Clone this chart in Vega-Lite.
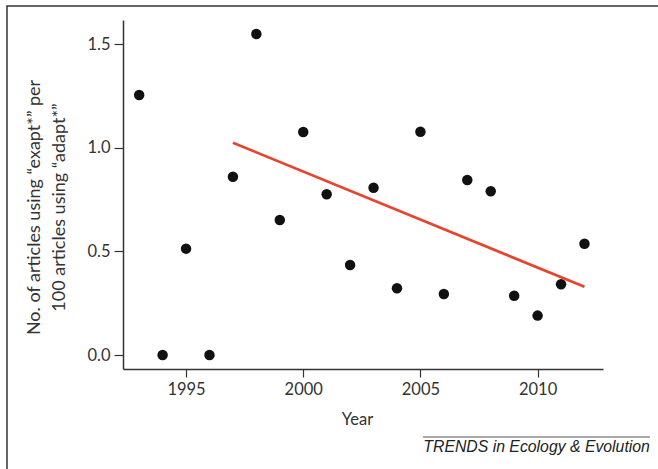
{
  "$schema": "https://vega.github.io/schema/vega-lite/v6.json",
  "autosize": "none",
  "width": 480,
  "height": 349,
  "padding": {"left": 123, "top": 20, "right": 55, "bottom": 100},
  "background": "white",
  "config": {"view": {"stroke": null}, "font": "Lato"},
  "datasets": {
    "points": [
      {"year": 1993, "value": 1.254},
      {"year": 1994, "value": 0.0},
      {"year": 1995, "value": 0.513},
      {"year": 1996, "value": 0.0},
      {"year": 1997, "value": 0.86},
      {"year": 1998, "value": 1.548},
      {"year": 1999, "value": 0.651},
      {"year": 2000, "value": 1.076},
      {"year": 2001, "value": 0.775},
      {"year": 2002, "value": 0.434},
      {"year": 2003, "value": 0.807},
      {"year": 2004, "value": 0.322},
      {"year": 2005, "value": 1.077},
      {"year": 2006, "value": 0.294},
      {"year": 2007, "value": 0.844},
      {"year": 2008, "value": 0.79},
      {"year": 2009, "value": 0.286},
      {"year": 2010, "value": 0.19},
      {"year": 2011, "value": 0.341},
      {"year": 2012, "value": 0.537}
    ],
    "fit": [
      {"year": 1997, "value": 1.024},
      {"year": 2012, "value": 0.329}
    ],
    "frame": [
      {"x1": 1987.36, "x2": 2030, "y1": 1.6833, "y2": -2}
    ],
    "credit": [
      {"x1": 2005.11, "x2": 2014.79, "y": -0.3955, "ty": -0.468, "label": "TRENDS in Ecology & Evolution"}
    ]
  },
  "layer": [
    {
      "data": {"name": "points"},
      "mark": {"type": "circle", "size": 110, "color": "#111111", "opacity": 1},
      "encoding": {
        "x": {
          "field": "year", "type": "quantitative",
          "scale": {"domain": [1992.31, 2012.79], "nice": false, "zero": false},
          "axis": {
            "title": "Year", "values": [1995, 2000, 2005, 2010], "format": "d", "zindex": 1,
            "grid": false, "domainColor": "#333333", "domainWidth": 1.5, "tickColor": "#333333", "tickWidth": 1.2,
            "tickSize": 8, "labelPadding": 4, "labelFontSize": 16.5, "labelColor": "#333333", "labelFont": "Lato",
            "titleFontSize": 16.5, "titleFontWeight": "normal", "titleColor": "#333333", "titleFont": "Lato", "titlePadding": 14, "titleX": 234
          }
        },
        "y": {
          "field": "value", "type": "quantitative",
          "scale": {"domain": [-0.0675, 1.6158], "nice": false, "zero": false},
          "axis": {
            "title": ["No. of articles using “exapt*” per", "100 articles using “adapt*”"],
            "values": [0, 0.5, 1, 1.5], "format": ".1f", "zindex": 1,
            "grid": false, "domainColor": "#333333", "domainWidth": 1.5, "tickColor": "#333333", "tickWidth": 1.2,
            "tickSize": 9, "labelPadding": 4, "labelFontSize": 16.5, "labelColor": "#333333", "labelFont": "Lato",
            "titleFontSize": 18, "titleFontWeight": "normal", "titleColor": "#333333", "titleFont": "Lato", "titlePadding": 18, "titleLineHeight": 25, "titleY": 187
          }
        }
      }
    },
    {
      "data": {"name": "fit"},
      "mark": {"type": "line", "color": "#e8432b", "strokeWidth": 2.7},
      "encoding": {
        "x": {"field": "year", "type": "quantitative"},
        "y": {"field": "value", "type": "quantitative"}
      }
    },
    {
      "data": {"name": "frame"},
      "mark": {"type": "rect", "filled": false, "stroke": "#333333", "strokeWidth": 1.5, "clip": false},
      "encoding": {
        "x": {"field": "x1", "type": "quantitative"},
        "x2": {"field": "x2"},
        "y": {"field": "y1", "type": "quantitative"},
        "y2": {"field": "y2"}
      }
    },
    {
      "data": {"name": "credit"},
      "mark": {"type": "rule", "stroke": "#555555", "strokeWidth": 1, "clip": false},
      "encoding": {
        "x": {"field": "x1", "type": "quantitative"},
        "x2": {"field": "x2"},
        "y": {"field": "y", "type": "quantitative"}
      }
    },
    {
      "data": {"name": "credit"},
      "mark": {"type": "text", "align": "right", "baseline": "alphabetic", "font": "Liberation Sans", "fontStyle": "italic", "fontSize": 15.8, "color": "#222222", "clip": false},
      "encoding": {
        "x": {"field": "x2", "type": "quantitative"},
        "y": {"field": "ty", "type": "quantitative"},
        "text": {"field": "label"}
      }
    }
  ]
}
